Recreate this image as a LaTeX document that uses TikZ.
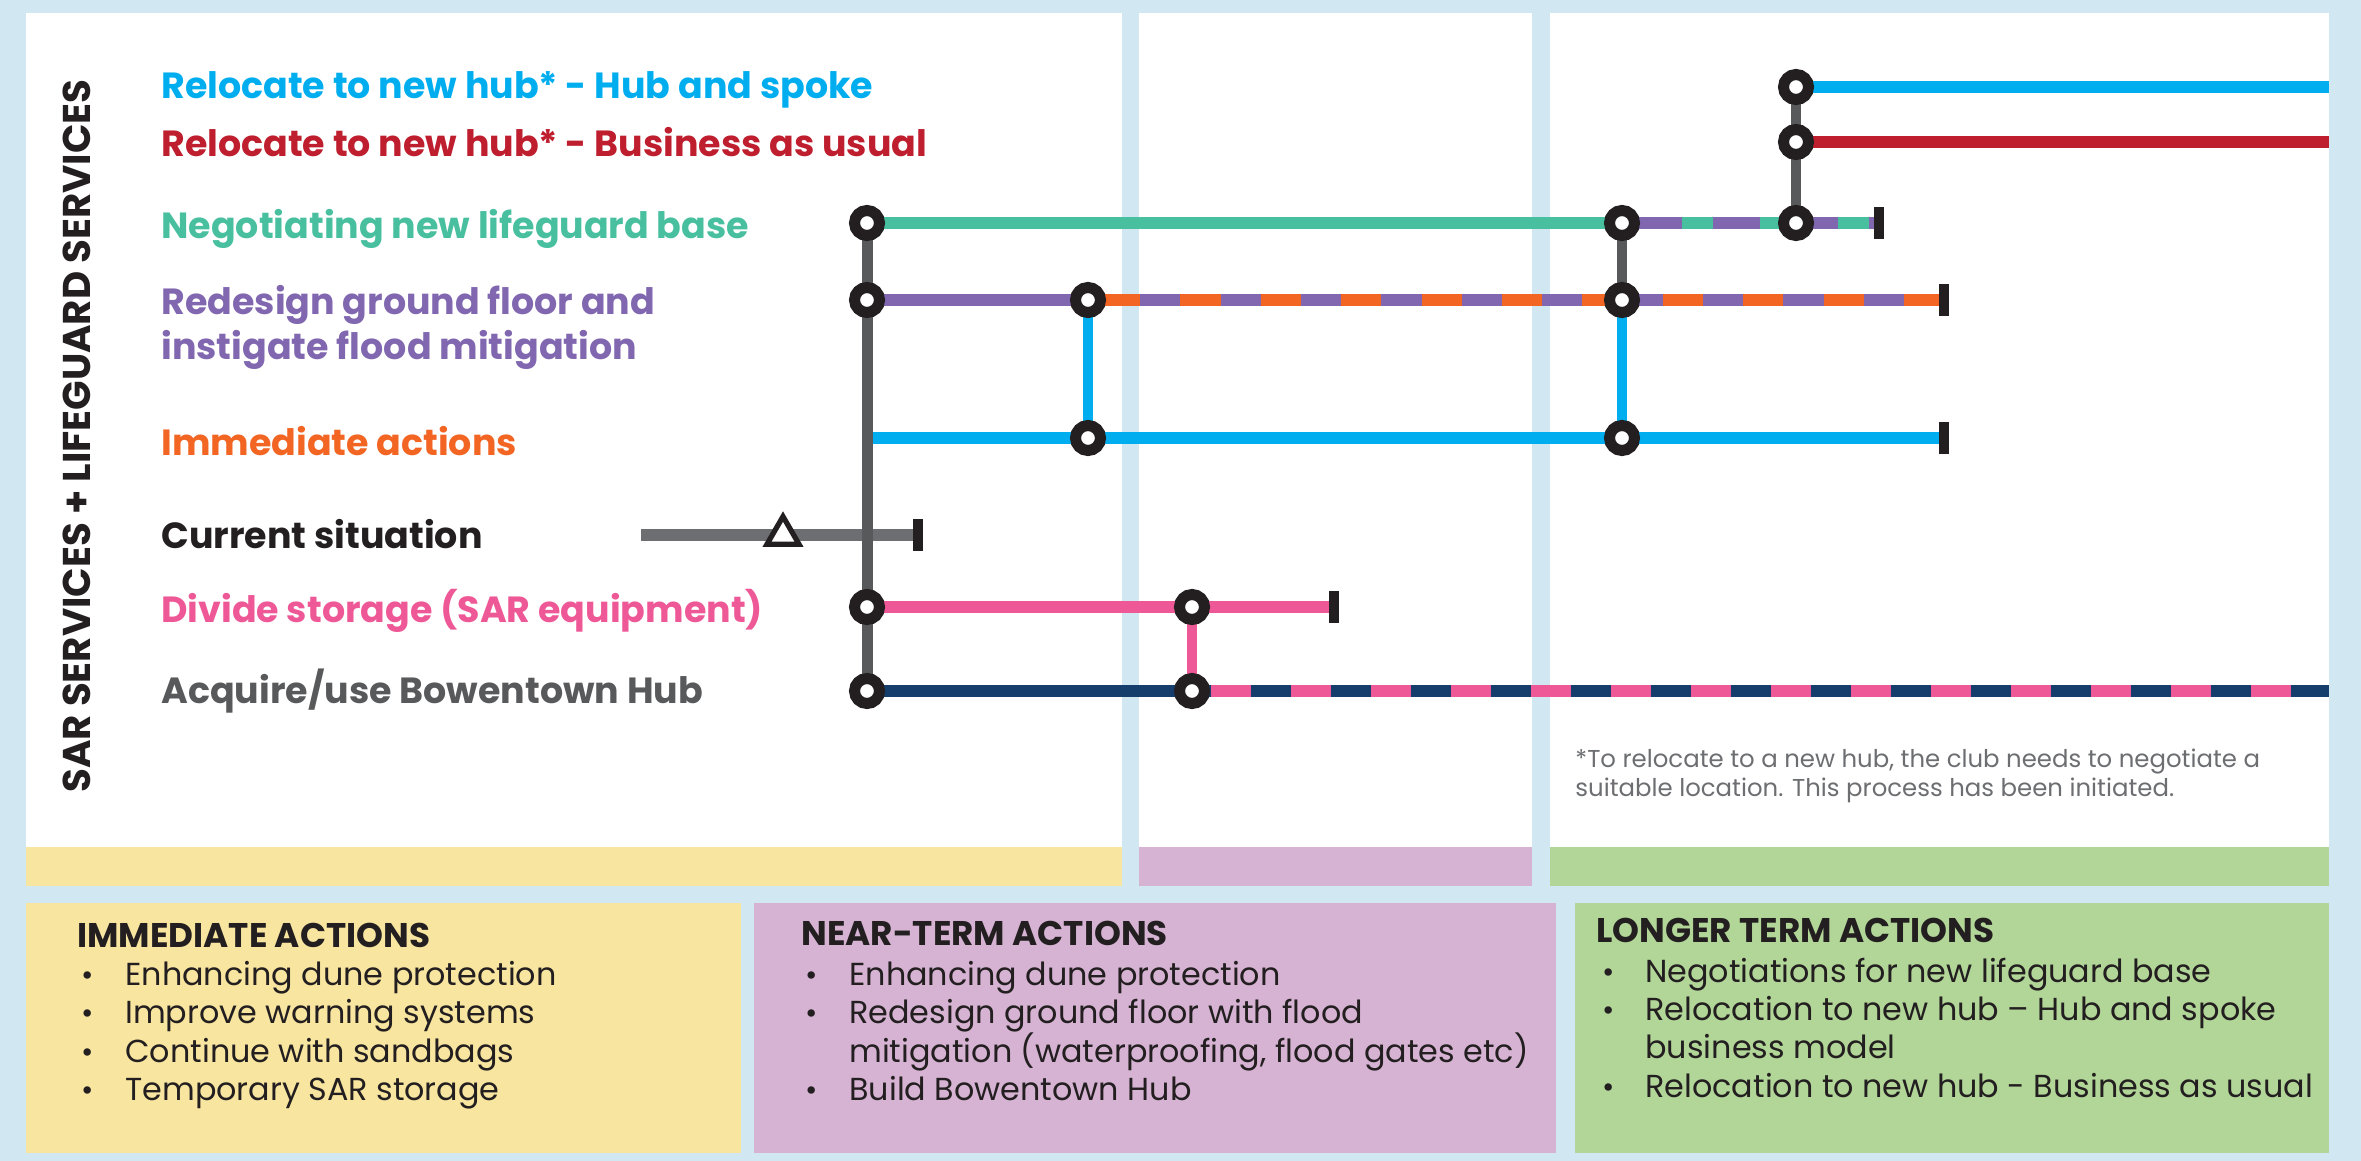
\documentclass[tikz,border=0pt]{standalone}
\usepackage{fontspec}
\setmainfont{Poppins}
\usetikzlibrary{shapes.geometric}
\definecolor{bgblue}{HTML}{D1E8F3}
\definecolor{ink}{HTML}{231F20}
\definecolor{cblue}{HTML}{00AEEF}
\definecolor{cred}{HTML}{BE1E2D}
\definecolor{cgreen}{HTML}{48C09F}
\definecolor{cpurple}{HTML}{8067B0}
\definecolor{corange}{HTML}{F26522}
\definecolor{cpink}{HTML}{EE5896}
\definecolor{cnavy}{HTML}{163E6C}
\definecolor{ctrunk}{HTML}{58595B}
\definecolor{cgray}{HTML}{6D6E71}
\definecolor{byellow}{HTML}{F8E5A0}
\definecolor{bpurple}{HTML}{D6B3D3}
\definecolor{bgreen}{HTML}{B2D598}
\pgfdeclarelayer{panels}
\pgfdeclarelayer{lines}
\pgfsetlayers{panels,lines,main}
\begin{document}
\begin{tikzpicture}[x=0.5pt,y=-0.5pt,
  station/.style={circle, draw=ink, fill=white, line width=5.5pt, minimum size=12.5pt, inner sep=0pt},
  endbar/.style={rectangle, fill=ink, minimum width=5pt, minimum height=16pt, inner sep=0pt},
  track/.style={line width=6pt},
  link/.style={line width=5pt},
  trunk/.style={line width=5.5pt, draw=ctrunk},
  lbl/.style={anchor=base west, inner sep=0pt, font=\fontsize{18.2}{20}\selectfont\bfseries},
  bodytxt/.style={anchor=base west, inner sep=0pt, text=ink, font=\fontsize{15.9}{18}\selectfont},
  headtxt/.style={anchor=base west, inner sep=0pt, text=ink, font=\fontsize{17.1}{18}\selectfont\bfseries},
  notetxt/.style={anchor=base west, inner sep=0pt, text=cgray, font=\fontsize{12.2}{14}\selectfont},
  bul/.style={anchor=base west, inner sep=0pt, text=ink, font=\fontsize{15}{16}\selectfont},
  panel/.style={fill=white, draw=none}]
\useasboundingbox (0,0) rectangle (2361,1161);
\begin{pgfonlayer}{panels}
\fill[bgblue] (0,0) rectangle (2361,1161);
\fill[white] (26,13) rectangle (1122,847);
\fill[white] (1139,13) rectangle (1532,847);
\fill[white] (1550,13) rectangle (2329,847);
\fill[byellow] (26,847) rectangle (1122,886);
\fill[bpurple] (1139,847) rectangle (1532,886);
\fill[bgreen] (1550,847) rectangle (2329,886);
\fill[byellow] (26,903) rectangle (741,1153);
\fill[bpurple] (754,903) rectangle (1556,1153);
\fill[bgreen] (1575,903) rectangle (2329,1153);
\end{pgfonlayer}

% stations
\node[station] (sHS) at (1796,87) {};
\node[station] (sBU) at (1796,142) {};
\node[station] (sNG1) at (867,223) {};
\node[station] (sNG2) at (1622,223) {};
\node[station] (sNG3) at (1796,223) {};
\node[station] (sRD1) at (867,300) {};
\node[station] (sRD2) at (1088,300) {};
\node[station] (sRD3) at (1622,300) {};
\node[station] (sIA2) at (1088,438) {};
\node[station] (sIA3) at (1622,438) {};
\node[station] (sDS1) at (867,607) {};
\node[station] (sDS2) at (1192,607) {};
\node[station] (sAB1) at (867,691) {};
\node[station] (sAB2) at (1192,691) {};
% end bars
\node[endbar] (eNG) at (1879,223) {};
\node[endbar] (eRD) at (1944,300) {};
\node[endbar] (eIA) at (1944,438) {};
\node[endbar] (eCS) at (918,535) {};
\node[endbar] (eDS) at (1334,607) {};
% free ends
\coordinate (cHS) at (2329,87);
\coordinate (cBU) at (2329,142);
\coordinate (cAB) at (2329,691);
\coordinate (cIA) at (867,438);
\coordinate (cCS) at (641,535);
\node[regular polygon, regular polygon sides=3, draw=ink, fill=white, line width=2.6pt, minimum size=18.5pt, inner sep=0pt] (tri) at (783,535) {};

\begin{pgfonlayer}{lines}
\draw[track, cblue] (sHS.center) -- (cHS);
\draw[track, cred] (sBU.center) -- (cBU);
\draw[track, cgreen] (sNG1.center) -- (sNG2.center);
\draw[track, cgreen] (sNG2.center) -- (eNG.center);
\draw[track, cpurple, dash pattern=on 23.5pt off 15.5pt, dash phase=32.5pt] (sNG2.center) -- (eNG.center);
\draw[track, cpurple] (sRD1.center) -- (sRD2.center);
\draw[track, cpurple] (sRD2.center) -- (eRD.center);
\draw[track, corange, dash pattern=on 20.1pt off 20.1pt, dash phase=34.2pt] (sRD2.center) -- (eRD.center);
\draw[track, cblue] (cIA) -- (eIA.center);
\draw[track, cgray] (cCS) -- (eCS.center);
\draw[track, cpink] (sDS1.center) -- (eDS.center);
\draw[track, cnavy] (sAB1.center) -- (sAB2.center);
\draw[track, cnavy] (sAB2.center) -- (cAB);
\draw[track, cpink, dash pattern=on 20pt off 20pt, dash phase=30.5pt] (sAB2.center) -- (cAB);
\draw[link, ctrunk] (sHS.center) -- (sBU.center);
\draw[link, ctrunk] (sBU.center) -- (sNG3.center);
\draw[link, ctrunk] (sNG2.center) -- (sRD3.center);
\draw[link, cblue] (sRD2.center) -- (sIA2.center);
\draw[link, cblue] (sRD3.center) -- (sIA3.center);
\draw[link, cpink] (sDS2.center) -- (sAB2.center);
\draw[trunk] (sNG1.center) -- (sRD1.center) -- (sDS1.center) -- (sAB1.center);
\end{pgfonlayer}

% title
\node[rotate=90, anchor=base west, inner sep=0pt, text=ink] (title) at (90,793)
  {\resizebox{356.5pt}{!}{\fontsize{19}{19}\selectfont\bfseries SAR SERVICES + LIFEGUARD SERVICES}};

% line labels
\node[lbl, text=cblue] (lHS) at (161,99) {Relocate to new hub* - Hub and spoke};
\node[lbl, text=cred] (lBU) at (161,156) {Relocate to new hub* - Business as usual};
\node[lbl, text=cgreen] (lNG) at (161,238) {Negotiating new lifeguard base};
\node[lbl, text=cpurple] (lRD1) at (161,314) {Redesign ground floor and};
\node[lbl, text=cpurple] (lRD2) at (161,359) {instigate flood mitigation};
\node[lbl, text=corange] (lIA) at (161,455) {Immediate actions};
\node[lbl, text=ink] (lCS) at (161,548) {Current situation};
\node[lbl, text=cpink] (lDS) at (161,622) {Divide storage (SAR equipment)};
\node[lbl, text=ctrunk] (lAB) at (161,703) {Acquire/use Bowentown Hub};

% footnote
\node[notetxt] (fn1) at (1575,767) {*To relocate to a new hub, the club needs to negotiate a};
\node[notetxt] (fn2) at (1575,796) {suitable location. This process has been initiated.};

% immediate box
\node[headtxt] (h1) at (77,947) {IMMEDIATE ACTIONS};
\node[bul] (b11) at (81,985) {•};
\node[bodytxt] (t11) at (125,985) {Enhancing dune protection};
\node[bul] (b12) at (81,1023) {•};
\node[bodytxt] (t12) at (125,1023) {Improve warning systems};
\node[bul] (b13) at (81,1062) {•};
\node[bodytxt] (t13) at (125,1062) {Continue with sandbags};
\node[bul] (b14) at (81,1100) {•};
\node[bodytxt] (t14) at (125,1100) {Temporary SAR storage};

% near-term box
\node[headtxt] (h2) at (801,945) {NEAR-TERM ACTIONS};
\node[bul] (b21) at (805,985) {•};
\node[bodytxt] (t21) at (849,985) {Enhancing dune protection};
\node[bul] (b22) at (805,1023) {•};
\node[bodytxt] (t22) at (849,1023) {Redesign ground floor with flood};
\node[bodytxt] (t22b) at (849,1062) {mitigation (waterproofing, flood gates etc)};
\node[bul] (b23) at (805,1100) {•};
\node[bodytxt] (t23) at (849,1100) {Build Bowentown Hub};

% longer term box
\node[headtxt] (h3) at (1596,942) {LONGER TERM ACTIONS};
\node[bul] (b31) at (1602,982) {•};
\node[bodytxt] (t31) at (1645,982) {Negotiations for new lifeguard base};
\node[bul] (b32) at (1602,1020) {•};
\node[bodytxt] (t32) at (1645,1020) {Relocation to new hub – Hub and spoke};
\node[bodytxt] (t32b) at (1645,1058) {business model};
\node[bul] (b33) at (1602,1097) {•};
\node[bodytxt] (t33) at (1645,1097) {Relocation to new hub - Business as usual};
\end{tikzpicture}
\end{document}
